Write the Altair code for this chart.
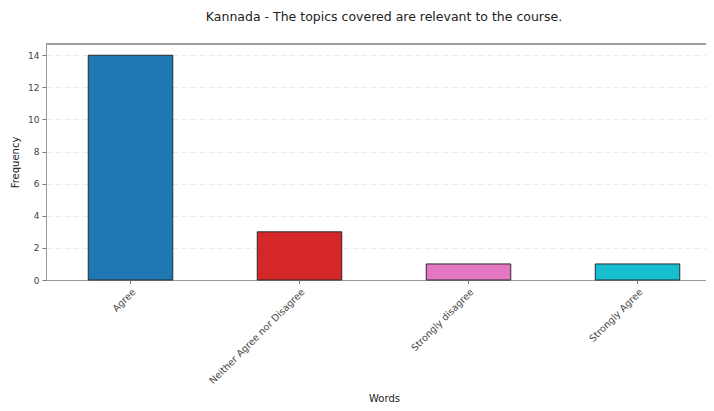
import altair as alt
import pandas as pd

categories = ["Agree", "Neither Agree nor Disagree", "Strongly disagree", "Strongly Agree"]
frequencies = [14, 3, 1, 1]
colors = ["#1f77b4", "#d62728", "#e377c2", "#17becf"]
y_ticks = [0, 2, 4, 6, 8, 10, 12, 14]

df = pd.DataFrame({"Words": categories, "Frequency": frequencies})

FONT = "DejaVu Sans"

bars = alt.Chart(df).mark_bar(stroke="#2a2a2a", strokeWidth=1).encode(
    x=alt.X(
        "Words:N",
        sort=None,
        scale=alt.Scale(range=[0, 676], paddingInner=0.5, paddingOuter=0.25),
        axis=alt.Axis(
            title="Words",
            labelAngle=-45,
            labelAlign="right",
            labelBaseline="top",
            labelFontSize=9.5,
            labelColor="#444444",
            labelPadding=3,
            labelFont=FONT,
            tickSize=3.5,
            tickColor="#777777",
            domainColor="#999999",
            grid=False,
            titleFont=FONT,
            titleFontSize=10,
            titleFontWeight="normal",
            titleColor="#222222",
            titleX=338,
            titleY=118,
            titleBaseline="middle",
            titleAnchor="middle",
        ),
    ),
    y=alt.Y(
        "Frequency:Q",
        scale=alt.Scale(domain=[0, 14.7], nice=False),
        axis=alt.Axis(
            title="Frequency",
            values=y_ticks,
            labelFontSize=9,
            labelColor="#444444",
            labelFont=FONT,
            labelPadding=3,
            tickSize=4,
            tickColor="#777777",
            domainColor="#999999",
            grid=True,
            gridColor="#e6e6e6",
            gridDash=[6, 3],
            gridWidth=0.8,
            titleFont=FONT,
            titleFontSize=10,
            titleFontWeight="normal",
            titleColor="#222222",
            titleX=-31,
            titleY=118,
            titleBaseline="middle",
            titleAnchor="middle",
        ),
    ),
    color=alt.Color(
        "Words:N",
        sort=None,
        scale=alt.Scale(domain=categories, range=colors),
        legend=None,
    ),
)

top_line = alt.Chart(df).mark_rule(color="#999999", strokeWidth=1).encode(
    x=alt.value(0), x2=alt.value(676), y=alt.value(0)
)

chart = (
    alt.layer(bars, top_line)
    .properties(
        width=660,
        height=236,
        autosize=alt.AutoSizeParams(type="none"),
        padding={"left": 38, "top": 36, "right": 0, "bottom": 122},
        title=alt.TitleParams(
            text="Kannada - The topics covered are relevant to the course.",
            font=FONT,
            fontSize=12.5,
            fontWeight="normal",
            color="#222222",
            anchor="middle",
            dx=8,
            offset=10,
            baseline="alphabetic",
        ),
    )
    .configure_view(stroke="transparent", strokeWidth=0)
    .configure(background="white")
)

chart.save("out.html", embed_options={"renderer": "svg", "actions": False})
